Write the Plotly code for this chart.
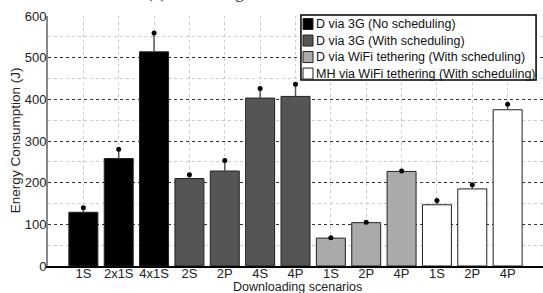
import plotly.graph_objects as go

# ---- data ----
tick_labels = ["1S", "2x1S", "4x1S", "2S", "2P", "4S", "4P", "1S", "2P", "4P", "1S", "2P", "4P"]
series_names = [
    "D via 3G (No scheduling)",
    "D via 3G (With scheduling)",
    "D via WiFi tethering (With scheduling)",
    "MH via WiFi tethering (With scheduling)",
]
series_positions = [[1, 2, 3], [4, 5, 6, 7], [8, 9, 10], [11, 12, 13]]
series_values = [
    [129, 258, 514],
    [210, 228, 403, 407],
    [67, 104, 227],
    [147, 185, 375],
]
series_errors = [
    [11, 22, 45],
    [9, 25, 23, 29],
    [1, 1, 1],
    [10, 10, 13],
]
series_colors = ["#000000", "#555555", "#aaaaaa", "#ffffff"]

FONT = "Liberation Sans, Arial, Helvetica, sans-serif"

fig = go.Figure()
for name, xs, ys, es, col in zip(series_names, series_positions, series_values, series_errors, series_colors):
    fig.add_trace(go.Bar(
        x=xs, y=ys, name=name, width=0.82,
        marker=dict(color=col, line=dict(color="#222222", width=1)),
        error_y=dict(type="data", array=es, arrayminus=[0] * len(es), symmetric=False,
                     color="#555555", thickness=1.5, width=0),
        showlegend=False,
    ))
    fig.add_trace(go.Scatter(
        x=xs, y=[v + e for v, e in zip(ys, es)], mode="markers",
        marker=dict(color="black", size=5), showlegend=False, hoverinfo="skip",
    ))

# ---- custom legend (box, swatches, labels) ----
PH = 249.7  # plot height in px
lx0, lx1, ly0, ly1 = 0.511, 0.986, 0.744, 1.004
fig.add_shape(type="rect", xref="paper", yref="paper", x0=lx0, x1=lx1, y0=ly0, y1=ly1,
              line=dict(color="black", width=1.5), fillcolor="white", layer="above")
row_px = [24, 40.5, 57, 73.5]
for name, col, rp in zip(series_names, series_colors, row_px):
    yc = (265.7 - rp) / PH
    fig.add_shape(type="rect", xref="paper", yref="paper",
                  x0=(303 - 48) / 495, x1=(313 - 48) / 495,
                  y0=yc - 5.5 / PH, y1=yc + 5.5 / PH,
                  line=dict(color="#222222", width=1), fillcolor=col, layer="above")
    fig.add_annotation(text=name, xref="paper", yref="paper", x=(314 - 48) / 495, y=yc,
                       xanchor="left", yanchor="middle", showarrow=False,
                       font=dict(family=FONT, size=12.5, color="#111111"))

# ---- clipped title ----
fig.add_annotation(text="(c) Processing and transmission", xref="paper", yref="paper",
                   x=(255 - 48) / 495, y=(265.7 - 4) / PH, xanchor="center", yanchor="bottom",
                   showarrow=False, font=dict(family="Liberation Serif, Times New Roman, serif", size=17, color="#222"))

# ---- axis titles ----
fig.add_annotation(text="Downloading scenarios", xref="paper", yref="paper",
                   x=(297 - 48) / 495, y=(265.7 - 287) / PH, xanchor="center", yanchor="middle",
                   showarrow=False, borderpad=0, font=dict(family=FONT, size=12.5, color="#222222"))
fig.add_annotation(text="Energy Consumption (J)", xref="paper", yref="paper", textangle=-90,
                   x=(15 - 48) / 495, y=(265.7 - 140) / PH, xanchor="center", yanchor="middle",
                   showarrow=False, font=dict(family=FONT, size=13.5, color="#222222"))

fig.update_layout(
    width=543, height=293,
    margin=dict(l=48, r=0, t=16, b=27),
    plot_bgcolor="white", paper_bgcolor="white",
    barmode="overlay",
    font=dict(family=FONT, size=13, color="#222222"),
    xaxis=dict(
        range=[0, 14], tickmode="array", tickvals=list(range(1, 14)), ticktext=tick_labels,
        showgrid=True, gridcolor="#cccccc", griddash="dot", gridwidth=1,
        showline=True, linecolor="black", linewidth=1.5, ticks="", zeroline=False,
        tickfont=dict(size=13), automargin=False, ticklabelstandoff=-5,
    ),
    yaxis=dict(
        range=[0, 600], dtick=100, tick0=0,
        showgrid=True, gridcolor="#333333", griddash="dot", gridwidth=1,
        minor=dict(dtick=50, showgrid=True, gridcolor="#cccccc", griddash="dot", gridwidth=1),
        showline=True, linecolor="#888888", linewidth=2, ticks="", zeroline=False,
        tickfont=dict(size=13), automargin=False, ticklabelstandoff=-3,
    ),
)

fig.write_html("out.html", config={"displayModeBar": False},
               post_script="document.body.style.margin='0';document.body.style.overflow='hidden';")
